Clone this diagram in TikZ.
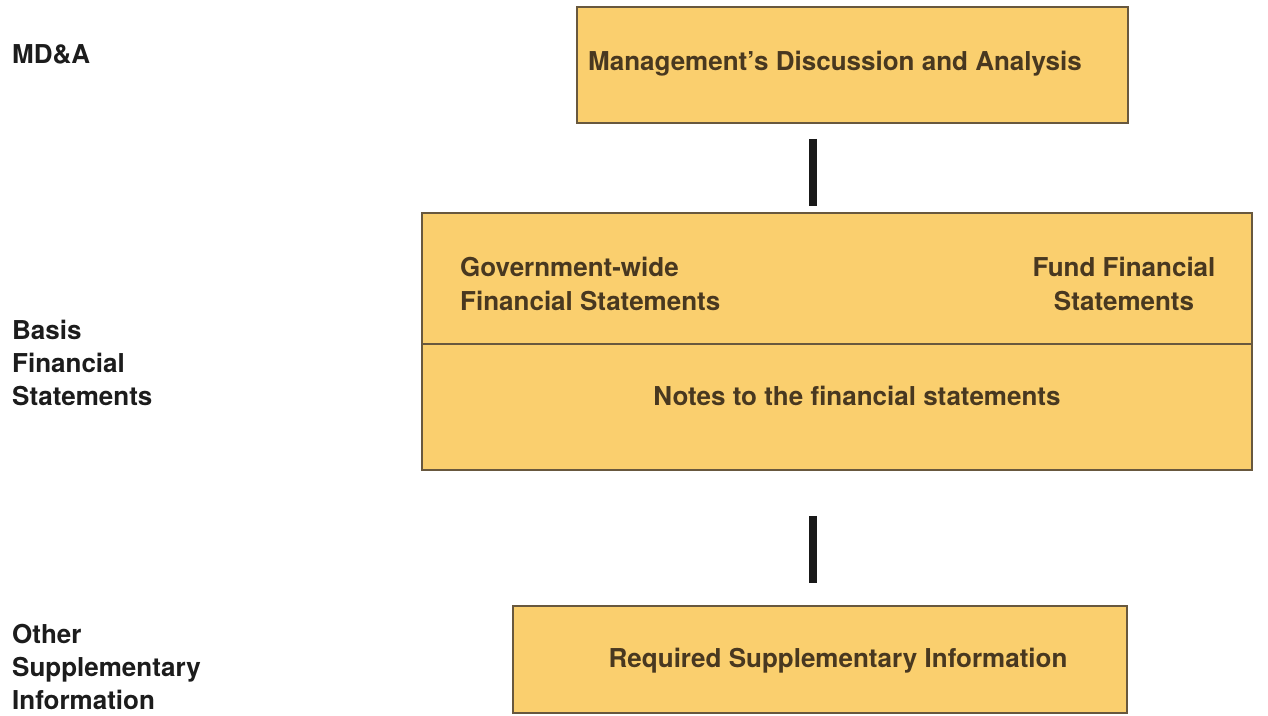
\documentclass[tikz,border=0pt]{standalone}
\usepackage{fontspec}
\setmainfont{TeX Gyre Heros}

\definecolor{boxfill}{RGB}{250,207,110}
\definecolor{boxline}{RGB}{104,88,62}
\definecolor{boxink}{RGB}{72,56,32}
\definecolor{sideink}{RGB}{28,28,28}

\begin{document}
\begin{tikzpicture}[x=1pt, y=-1pt,
    panel/.style={draw=boxline, line width=1.8pt, fill=boxfill, inner sep=0pt},
    paneltext/.style={text=boxink, inner sep=0pt, font=\fontsize{26}{34}\selectfont\bfseries},
    sidetext/.style={text=sideink, inner sep=0pt, anchor=base west, align=left, font=\fontsize{26}{33}\selectfont\bfseries},
    link/.style={line width=8pt, black!90}]
    \useasboundingbox (0,0) rectangle (1268,715);

    % the four boxes (centre, size in px)
    \node[panel, minimum width=551pt, minimum height=116pt] (mda) at (852.5, 65) {};
    \node[panel, minimum width=830pt, minimum height=131pt] (statements) at (837, 278.5) {};
    \node[panel, minimum width=830pt, minimum height=126pt] (notes) at (837, 407) {};
    \node[panel, minimum width=614pt, minimum height=107pt] (rsi) at (820, 659.5) {};

    % box texts, placed by baseline (last line for two-line ones)
    \node[paneltext, anchor=base] (mdalabel) at (835, 70) {Management's Discussion and Analysis};
    \node[paneltext, anchor=base west, align=left] (govwide) at (460, 310) {Government-wide\\Financial Statements};
    \node[paneltext, anchor=base, align=center] (fundfs) at (1124, 310) {Fund Financial\\Statements};
    \node[paneltext, anchor=base] (noteslabel) at (857, 405) {Notes to the financial statements};
    \node[paneltext, anchor=base] (rsilabel) at (838, 667) {Required Supplementary Information};

    % labels down the left side
    \node[sidetext] (mdaside) at (12, 63) {MD\&A};
    \node[sidetext] (basisside) at (12, 405) {Basis\\Financial\\Statements};
    \node[sidetext] (otherside) at (12, 709) {Other\\Supplementary\\Information};

    % connecting bars
    \coordinate (spine) at (813, 0);
    \draw[link, shorten <=15pt, shorten >=6pt] (spine |- mda.south) -- (spine |- statements.north);
    \draw[link, shorten <=45pt, shorten >=22pt] (spine |- notes.south) -- (spine |- rsi.north);
\end{tikzpicture}
\end{document}
